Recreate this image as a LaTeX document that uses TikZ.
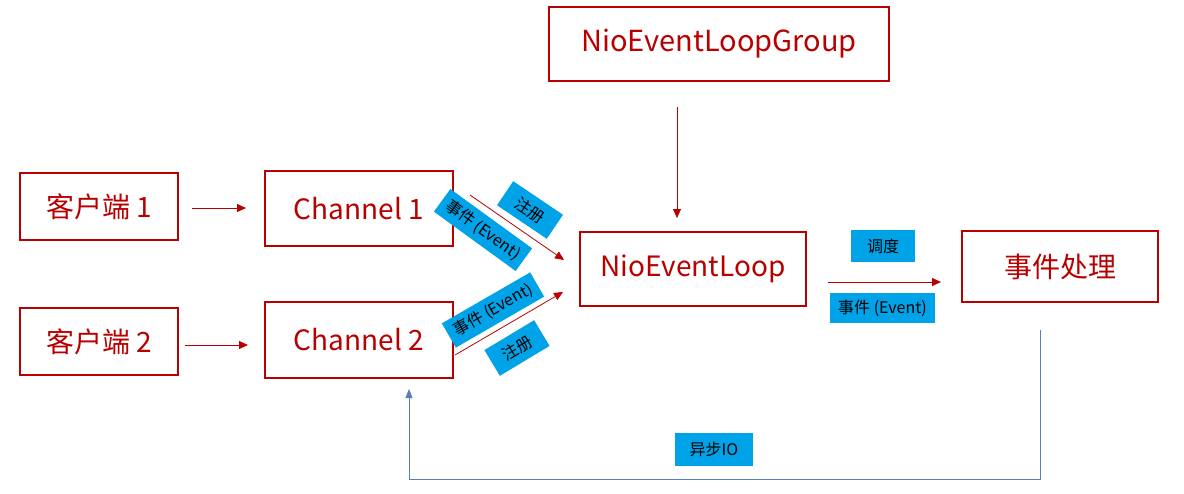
\documentclass[tikz,border=0pt]{standalone}
\usepackage{fontspec}
\setmainfont{Noto Sans CJK SC}
\usetikzlibrary{arrows.meta}
\definecolor{dred}{RGB}{185,0,0}
\definecolor{lblue}{RGB}{0,162,232}
\definecolor{lineblue}{RGB}{90,125,190}
\tikzset{
  redbox/.style={draw=dred, line width=1.5pt, text=dred, inner sep=0pt, font=\fontsize{28}{32}\selectfont},
  tag/.style={fill=lblue, text=black, inner sep=0pt, font=\fontsize{16}{18}\selectfont},
  redarrow/.style={draw=dred, line width=0.8pt, -{Triangle[length=9pt,width=8pt]}},
  bluearrow/.style={draw=lineblue, line width=0.9pt, -{Triangle[length=9pt,width=7pt]}},
}
\begin{document}
\begin{tikzpicture}[x=1pt,y=-1pt]
\useasboundingbox (0,0) rectangle (1184,493);
\fill[white] (0,0) rectangle (1184,493);
% boxes
\node[redbox, minimum width=158pt, minimum height=67pt] (c1) at (99,206.5) {客户端 1};
\node[redbox, minimum width=158pt, minimum height=67pt] (c2) at (99,341.5) {客户端 2};
\node[redbox, minimum width=188pt, minimum height=75pt] (ch1) at (359,208.5) {Channel 1};
\node[redbox, minimum width=188pt, minimum height=76pt] (ch2) at (359,340) {Channel 2};
\node[redbox, minimum width=340pt, minimum height=74pt, font=\fontsize{29}{32}\selectfont] (grp) at (719,44) {NioEventLoopGroup};
\node[redbox, minimum width=226pt, minimum height=74pt] (loop) at (693,269) {NioEventLoop};
\node[redbox, minimum width=196pt, minimum height=71pt] (proc) at (1060,266.5) {事件处理};
% arrow end points
\coordinate (a1s) at (192,208);  \coordinate (a1e) at (246,208);
\coordinate (a2s) at (185,345);  \coordinate (a2e) at (248,345);
\coordinate (gs) at (677,107);   \coordinate (ge) at (677,218);
\coordinate (u1s) at (470,195);  \coordinate (u1e) at (564,260);
\coordinate (u2s) at (455,355);  \coordinate (u2e) at (563,292);
\coordinate (ps) at (828,282);   \coordinate (pe) at (941,282);
\coordinate (ios) at (1040,330); \coordinate (ioc) at (1040,479);
\coordinate (ioe) at (409,389);
\draw[redarrow] (a1s) -- (a1e);
\draw[redarrow] (a2s) -- (a2e);
\draw[redarrow] (gs) -- (ge);
\draw[redarrow] (u1s) -- (u1e);
\draw[redarrow] (u2s) -- (u2e);
\draw[redarrow] (ps) -- (pe);
\draw[bluearrow] (ios) -- (ioc) -| (ioe);
% tags
\node[tag, minimum width=101pt, minimum height=28pt, rotate=-36] (t1) at (483,230) {事件 (Event)};
\node[tag, minimum width=60pt, minimum height=29pt, rotate=-34] (t2) at (530,210) {注册};
\node[tag, minimum width=102pt, minimum height=28pt, rotate=30] (t3) at (493,310) {事件 (Event)};
\node[tag, minimum width=58pt, minimum height=30pt, rotate=31] (t4) at (517,348) {注册};
\node[tag, minimum width=64pt, minimum height=32pt] (t5) at (883,246) {调度};
\node[tag, minimum width=105pt, minimum height=30pt] (t6) at (882.5,308) {事件 (Event)};
\node[tag, minimum width=78pt, minimum height=33pt] (t7) at (714,449.5) {异步IO};
\end{tikzpicture}
\end{document}
